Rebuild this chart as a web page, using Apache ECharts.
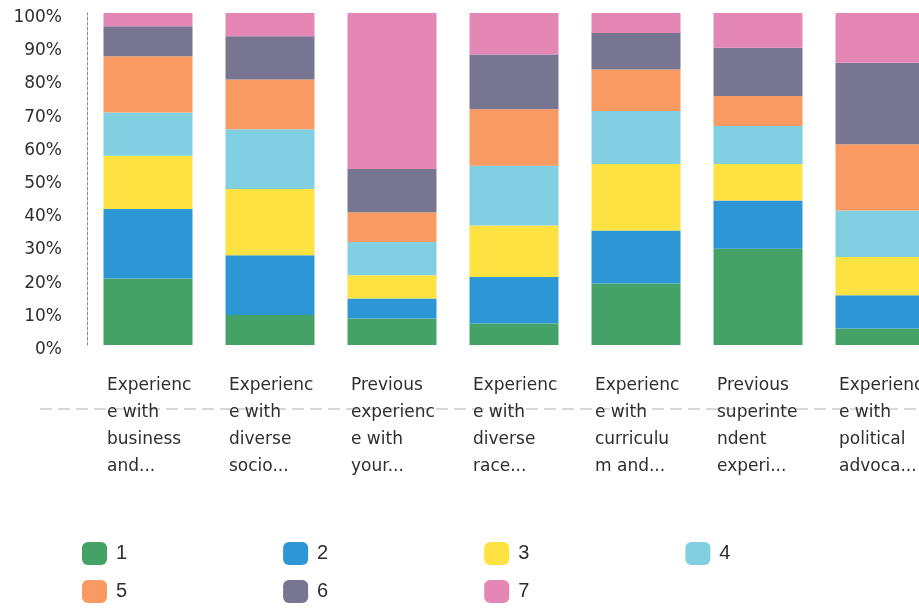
<!DOCTYPE html>
<html>
<head>
<meta charset="utf-8">
<script src="https://cdn.jsdelivr.net/npm/echarts@6/dist/echarts.min.js"></script>
<style>
  html, body { margin: 0; padding: 0; background: #ffffff; }
  #chart { width: 919px; height: 609px; }
</style>
</head>
<body>
<div id="chart"></div>
<script>
// Category labels, wrapped the way they appear under each bar
const categories = [
  'Experienc\ne with\nbusiness\nand...',
  'Experienc\ne with\ndiverse\nsocio...',
  'Previous\nexperienc\ne with\nyour...',
  'Experienc\ne with\ndiverse\nrace...',
  'Experienc\ne with\ncurriculu\nm and...',
  'Previous\nsuperinte\nndent\nexperi...',
  'Experienc\ne with\npolitical\nadvoca...'
];

// Share of responses (%) for each rating, per category
const rating1 = [20, 9, 8, 6.5, 18.5, 29, 5];
const rating2 = [21, 18, 6, 14, 16, 14.5, 10];
const rating3 = [16, 20, 7, 15.5, 20, 11, 11.5];
const rating4 = [13, 18, 10, 18, 16, 11.5, 14];
const rating5 = [17, 15, 9, 17, 12.5, 9, 20];
const rating6 = [9, 13, 13, 16.5, 11, 14.5, 24.5];
const rating7 = [4, 7, 47, 12.5, 6, 10.5, 15];

const ratingNames = ['1', '2', '3', '4', '5', '6', '7'];
const ratingValues = [rating1, rating2, rating3, rating4, rating5, rating6, rating7];
const ratingColors = ['#45a266', '#2d96d5', '#fde242', '#80d0e1', '#f89a62', '#77758f', '#e487b5'];

const yTicks = { min: 0, max: 100, interval: 10 };

const textColor = '#2e2e2e';
const fontFamily = '"DejaVu Sans", sans-serif';

const series = ratingNames.map((name, i) => ({
  name: name,
  type: 'bar',
  stack: 'total',
  barWidth: 89,
  data: ratingValues[i],
  itemStyle: { color: ratingColors[i] },
  emphasis: { disabled: true }
}));

const legendCommon = {
  orient: 'horizontal',
  left: 77,
  itemWidth: 25,
  itemHeight: 23,
  itemGap: 156,
  icon: 'roundRect',
  selectedMode: false,
  textStyle: {
    color: textColor,
    fontSize: 20,
    fontFamily: '"Liberation Sans Narrow", "Liberation Sans", sans-serif',
    padding: [0, 0, 0, 4]
  }
};

const chart = echarts.init(document.getElementById('chart'), null, { renderer: 'canvas' });

chart.setOption({
  animation: false,
  backgroundColor: '#ffffff',
  color: ratingColors,
  // the last bar runs past the right edge of the canvas
  grid: { left: 87, width: 854, top: 13, bottom: 264, containLabel: false, outerBoundsMode: 'none' },
  legend: [
    Object.assign({}, legendCommon, { top: 537, data: ratingNames.slice(0, 4) }),
    Object.assign({}, legendCommon, { top: 575, data: ratingNames.slice(4) })
  ],
  xAxis: {
    type: 'category',
    data: categories,
    axisLine: { show: false },
    axisTick: { show: false },
    axisLabel: {
      interval: 0,
      margin: 27,
      formatter: v => v.split('\n').map(s => '{a|' + s + '}').join('\n'),
      rich: {
        a: {
          width: 82,
          align: 'left',
          fontSize: 17,
          lineHeight: 27,
          color: textColor,
          fontFamily: fontFamily
        }
      }
    }
  },
  yAxis: {
    type: 'value',
    min: yTicks.min,
    max: yTicks.max,
    interval: yTicks.interval,
    axisLine: { show: true, lineStyle: { color: '#8a8a8a', type: [3, 2], width: 1 } },
    axisTick: { show: false },
    splitLine: { show: false },
    axisLabel: {
      formatter: '{value}%',
      margin: 25,
      verticalAlign: 'top',
      lineHeight: 9,
      fontSize: 17,
      color: textColor,
      fontFamily: fontFamily
    }
  },
  graphic: [{
    type: 'line',
    z: -1,
    silent: true,
    shape: { x1: 40, y1: 409, x2: 919, y2: 409 },
    style: { stroke: '#b0b0b0', lineWidth: 1, lineDash: [12, 6] }
  }],
  series: series
});
</script>
</body>
</html>
